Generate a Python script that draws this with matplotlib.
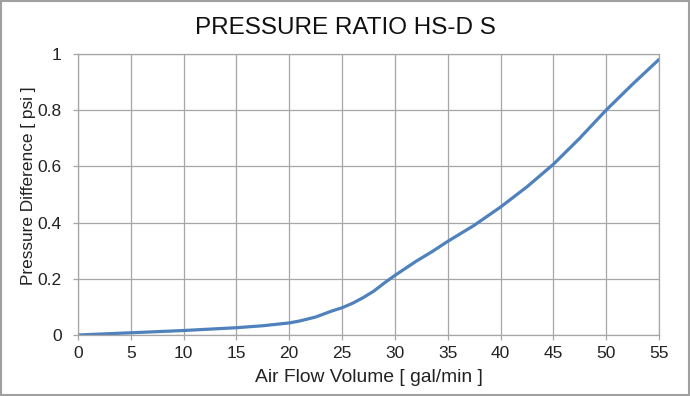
import matplotlib
matplotlib.use("Agg")
import matplotlib.pyplot as plt
from matplotlib.patches import Rectangle

plt.rcParams['font.family'] = ['Liberation Sans', 'DejaVu Sans']

# values
flow = [0, 2.5, 5, 7.5, 10, 12.5, 15, 17.5, 20, 21, 22.5, 24, 25, 26, 27, 28, 29, 30,
        31, 32, 33.5, 35, 37.5, 40, 42.5, 45, 47.5, 50, 52.5, 55]
pressure = [0.0, 0.004, 0.008, 0.012, 0.016, 0.021, 0.026, 0.033, 0.043, 0.05, 0.064, 0.085,
            0.097, 0.113, 0.133, 0.156, 0.185, 0.212, 0.237, 0.262, 0.296, 0.333, 0.39, 0.455,
            0.527, 0.607, 0.70, 0.80, 0.892, 0.98]
xticks = list(range(0, 60, 5))
yticks = [0, 0.2, 0.4, 0.6, 0.8, 1]
ylabels = ['0', '0.2', '0.4', '0.6', '0.8', '1']

fig = plt.figure(figsize=(6.9, 3.96), dpi=100)
ax = fig.add_axes([0.113, 0.154, 0.842, 0.710])

ax.plot(flow, pressure, color='#4f81bd', lw=2.3, solid_capstyle='round', solid_joinstyle='round')

ax.set_xlim(0, 55)
ax.set_ylim(0, 1)
ax.set_xticks(xticks)
ax.set_yticks(yticks)
ax.set_yticklabels(ylabels)
ax.grid(True, color='#a6a6a6', lw=0.9)
ax.set_axisbelow(True)
for s in ax.spines.values():
    s.set_color('#a6a6a6')
    s.set_linewidth(0.9)
ax.tick_params(length=3.6, width=0.9, color='#a6a6a6', labelsize=12.5, labelcolor='#222222')
ax.tick_params(axis='x', pad=4)
ax.tick_params(axis='y', pad=8)

ax.set_xlabel('Air Flow Volume [ gal/min ]', fontsize=13.9, color='#222222')
ax.set_ylabel('Pressure Difference [ psi ]', fontsize=12.4, color='#222222')
ax.xaxis.set_label_coords(0.5, -0.122)
ax.yaxis.set_label_coords(-0.072, 0.53)
fig.text(0.5, 0.93, 'PRESSURE RATIO HS-D S', ha='center', va='center', fontsize=17.5, color='#111111')

fig.patches.append(Rectangle((0.002, 0.003), 0.996, 0.994, transform=fig.transFigure,
                             fill=False, edgecolor='#a0a0a0', lw=1.5))

fig.savefig('out.png', dpi=100)
